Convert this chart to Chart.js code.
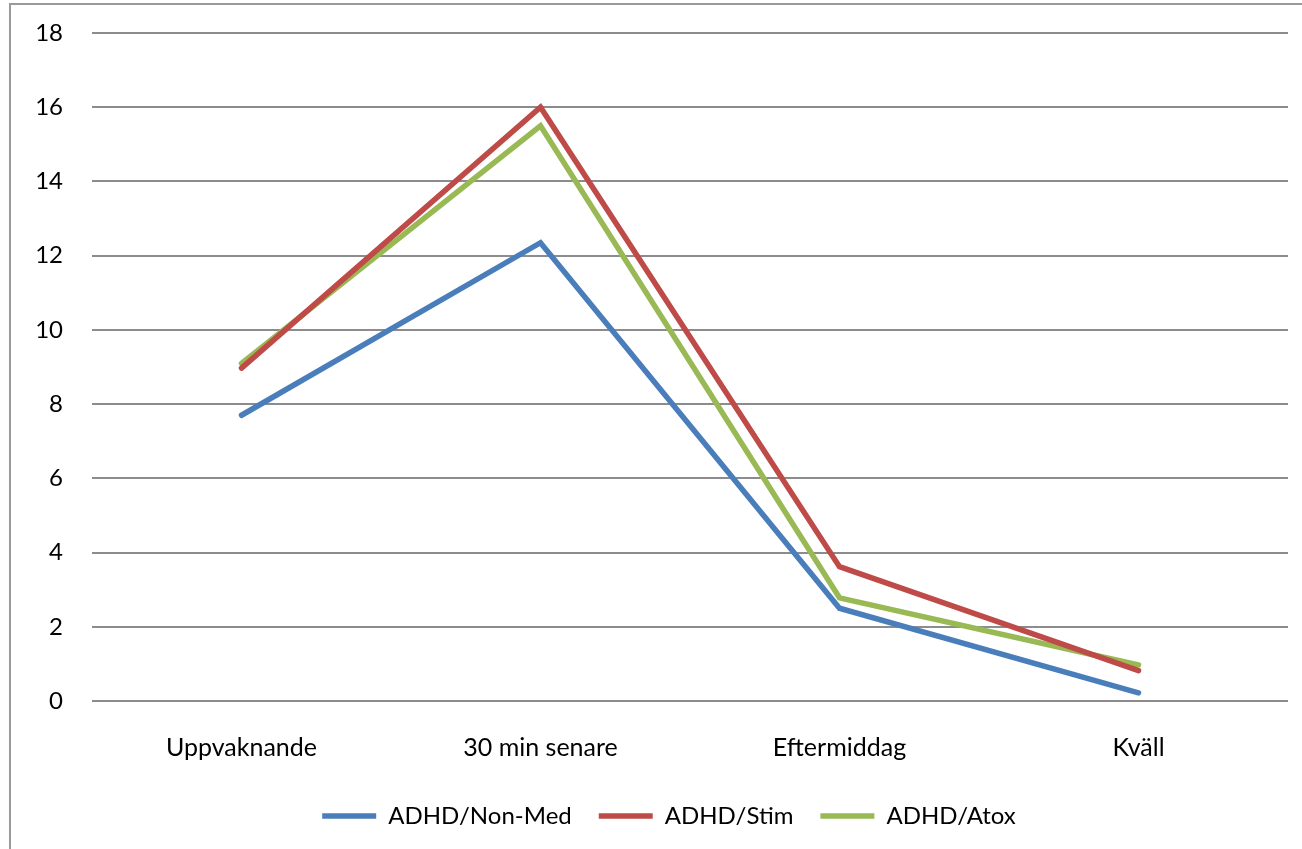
<!DOCTYPE html>
<html>
<head>
<meta charset="utf-8">
<script src="https://cdn.jsdelivr.net/npm/chart.js@4"></script>
<style>
  html, body { margin: 0; padding: 0; background: #fff; overflow: hidden; }
  #frame { position: absolute; left: 9px; top: 3px; width: 1400px; height: 900px; border: 2px solid #9a9a9a; box-sizing: border-box; }
  #wrap { position: absolute; left: 0; top: 0; width: 1302px; height: 849px; }
</style>
</head>
<body>
<div id="frame"></div>
<div id="wrap"><canvas id="chart"></canvas></div>
<script>
// tider på dagen
const categories = ['Uppvaknande', '30 min senare', 'Eftermiddag', 'Kväll'];

// värden per grupp
const nonMed = [7.7, 12.35, 2.5, 0.22];
const stim = [8.97, 16.0, 3.62, 0.82];
const atox = [9.1, 15.5, 2.78, 0.97];

const seriesNames = ['ADHD/Non-Med', 'ADHD/Stim', 'ADHD/Atox'];
const seriesColors = ['#4a7ebb', '#be4b48', '#98b954'];

const yMin = 0;
const yMax = 18;
const yStep = 2;

const fontFamily = 'Lato, "Open Sans", sans-serif';

function makeDataset(i, values) {
    return {
        label: seriesNames[i],
        data: values,
        borderColor: seriesColors[i],
        backgroundColor: seriesColors[i],
        borderWidth: 5.5,
        borderCapStyle: 'round',
        borderJoinStyle: 'miter',
        pointRadius: 0,
        pointHoverRadius: 0,
        tension: 0,
        fill: false
    };
}

// legenden sitter lite till höger om mitten i originalet
const legendShift = {
    id: 'legendShift',
    afterLayout(chart) {
        if (!chart.legend) return;
        chart.legend.left += 50;
    }
};

const ctx = document.getElementById('chart').getContext('2d');
new Chart(ctx, {
    type: 'line',
    data: {
        labels: categories,
        datasets: [
            makeDataset(0, nonMed),
            makeDataset(1, stim),
            makeDataset(2, atox)
        ]
    },
    plugins: [legendShift],
    options: {
        responsive: true,
        maintainAspectRatio: false,
        animation: false,
        layout: { padding: { top: 33, right: 14, left: 0, bottom: 11 } },
        plugins: {
            tooltip: { enabled: false },
            legend: {
                position: 'bottom',
                labels: {
                    usePointStyle: true,
                    pointStyle: 'line',
                    pointStyleWidth: 54,
                    boxHeight: 20,
                    padding: 27,
                    color: '#000',
                    font: { family: fontFamily, size: 24 }
                }
            }
        },
        scales: {
            x: {
                offset: true,
                grid: { display: false, drawTicks: false },
                border: { display: false },
                ticks: {
                    color: '#000',
                    padding: 32,
                    maxRotation: 0,
                    font: { family: fontFamily, size: 25 }
                },
                afterFit: function(scale) { scale.height = 76; }
            },
            y: {
                min: yMin,
                max: yMax,
                grid: { color: '#8c8c8c', lineWidth: 2, drawTicks: false },
                border: { display: false },
                ticks: {
                    stepSize: yStep,
                    color: '#000',
                    padding: 29,
                    font: { family: fontFamily, size: 24 }
                },
                afterFit: function(scale) {
                    scale.width = 92;
                    scale.paddingTop = 0;
                    scale.paddingBottom = 0;
                }
            }
        }
    }
});
</script>
</body>
</html>
